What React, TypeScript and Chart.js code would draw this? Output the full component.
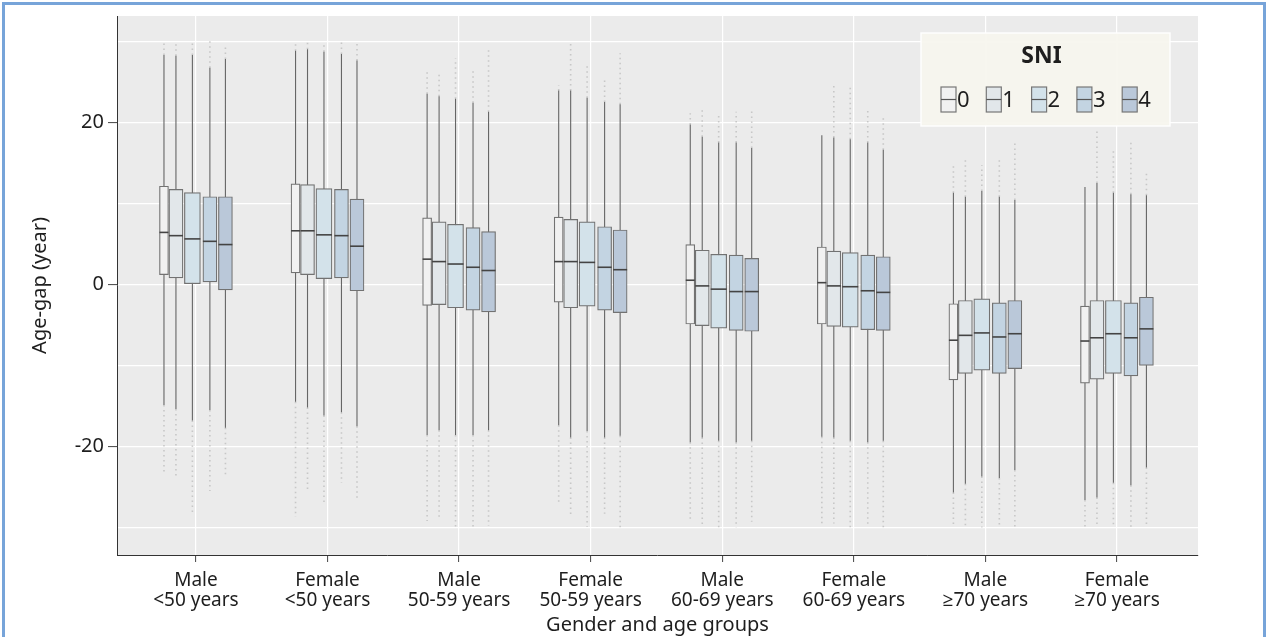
import React, { useEffect, useRef } from "react";
import { Chart, registerables } from "chart.js";

Chart.register(...registerables);

// ---------- data ----------
const GROUPS: string[][] = [
  ["Male", "<50 years"],
  ["Female", "<50 years"],
  ["Male", "50-59 years"],
  ["Female", "50-59 years"],
  ["Male", "60-69 years"],
  ["Female", "60-69 years"],
  ["Male", "≥70 years"],
  ["Female", "≥70 years"],
];
const SNI_LEVELS = ["0", "1", "2", "3", "4"];
const Y_TICKS = [-30, -20, -10, 0, 10, 20, 30];
const Y_LABELED = [-20, 0, 20];

// [SNI level][group]
const Q3 = [
  [12.1, 12.4, 8.2, 8.3, 4.9, 4.6, -2.4, -2.7],
  [11.7, 12.3, 7.7, 8.0, 4.2, 4.1, -2.0, -2.0],
  [11.3, 11.8, 7.4, 7.7, 3.7, 3.9, -1.8, -2.0],
  [10.8, 11.7, 7.0, 7.1, 3.6, 3.6, -2.3, -2.3],
  [10.8, 10.5, 6.5, 6.7, 3.2, 3.4, -2.0, -1.6],
];
const MEDIAN = [
  [6.4, 6.6, 3.1, 2.8, 0.5, 0.2, -6.9, -7.0],
  [6.0, 6.6, 2.8, 2.8, -0.2, -0.2, -6.3, -6.6],
  [5.6, 6.1, 2.5, 2.7, -0.6, -0.3, -6.0, -6.1],
  [5.3, 6.0, 2.1, 2.1, -0.9, -0.8, -6.5, -6.6],
  [4.9, 4.7, 1.7, 1.8, -0.9, -1.0, -6.1, -5.5],
];
const Q1 = [
  [1.2, 1.4, -2.6, -2.2, -4.9, -4.9, -11.8, -12.2],
  [0.8, 1.2, -2.5, -2.9, -5.1, -5.2, -11.0, -11.7],
  [0.0, 0.7, -2.9, -2.7, -5.4, -5.3, -10.6, -11.0],
  [0.3, 0.8, -3.2, -3.2, -5.7, -5.6, -11.0, -11.3],
  [-0.7, -0.8, -3.4, -3.5, -5.8, -5.7, -10.4, -10.0],
];
const WHISKER_HI = [
  [28.3, 28.8, 23.5, 23.9, 19.7, 18.4, 11.3, 12.0],
  [28.2, 29.0, 23.2, 23.9, 18.2, 18.1, 10.8, 12.5],
  [28.3, 28.7, 22.9, 23.0, 17.5, 17.9, 11.5, 11.3],
  [26.7, 28.4, 22.4, 22.5, 17.5, 17.5, 10.8, 11.1],
  [27.8, 27.6, 21.3, 22.2, 16.8, 16.6, 10.4, 11.0],
];
const WHISKER_LO = [
  [-14.9, -14.5, -18.6, -17.4, -19.5, -18.8, -25.7, -26.6],
  [-15.4, -15.2, -18.0, -18.9, -18.9, -18.9, -24.6, -26.3],
  [-16.8, -16.2, -18.6, -18.1, -19.3, -19.3, -23.7, -24.5],
  [-15.5, -15.8, -18.6, -18.9, -19.5, -19.5, -23.9, -24.8],
  [-17.7, -17.5, -18.0, -18.7, -19.3, -19.3, -22.9, -22.6],
];
const OUTLIER_HI = [
  [29.9, 29.8, 26.3, 24.6, 21.1, 18.4, 14.8, 12.0],
  [29.9, 30.0, 26.2, 29.7, 21.8, 24.8, 15.7, 19.0],
  [30.0, 29.9, 27.9, 27.1, 21.1, 24.5, 14.7, 16.8],
  [30.0, 30.0, 26.7, 25.4, 21.3, 21.4, 15.3, 17.5],
  [29.5, 29.8, 29.1, 28.5, 21.6, 20.5, 17.5, 14.0],
];
const OUTLIER_LO = [
  [-23.4, -28.7, -29.2, -26.9, -29.2, -29.8, -30.0, -30.0],
  [-24.0, -25.5, -28.8, -28.7, -30.0, -29.5, -30.0, -30.0],
  [-28.1, -27.3, -30.0, -29.9, -30.0, -30.0, -30.0, -30.0],
  [-25.5, -24.5, -30.0, -28.3, -30.0, -29.9, -30.0, -30.0],
  [-23.6, -26.6, -29.8, -30.0, -29.3, -30.0, -30.0, -30.0],
];

// ---------- layout / style ----------
const DODGE = [-0.243, -0.152, -0.027, 0.106, 0.224];
const BOX_WIDTH = [9, 14, 16, 14, 14];
const FILLS = ["#f1f1f1", "#e2e7ea", "#d3e2ea", "#c3d4e2", "#bac8d9"];
const FONT = "'Noto Sans', 'Open Sans', sans-serif";
const TEXT = "#1e1e1e";

const bgPlugin = {
  id: "panelBg",
  beforeDraw(chart: any) {
    const { ctx, chartArea: a } = chart;
    ctx.save();
    ctx.fillStyle = "#ebebeb";
    ctx.fillRect(a.left, a.top, a.right - a.left, a.bottom - a.top);
    ctx.restore();
  },
};

const legendPlugin = {
  id: "sniLegend",
  afterDraw(chart: any) {
    const { ctx, chartArea: a } = chart;
    const left = a.right - 277;
    const top = a.top + 17;
    const w = 249;
    const h = 93;
    ctx.save();
    ctx.fillStyle = "rgba(247,245,238,0.95)";
    ctx.fillRect(left, top, w, h);
    ctx.strokeStyle = "rgba(255,255,255,0.9)";
    ctx.lineWidth = 1.5;
    ctx.strokeRect(left, top, w, h);
    ctx.fillStyle = TEXT;
    ctx.font = `bold 23px ${FONT}`;
    ctx.textAlign = "center";
    ctx.textBaseline = "middle";
    ctx.fillText("SNI", left + w / 2 - 4, top + 23);
    ctx.font = `22px ${FONT}`;
    ctx.textAlign = "left";
    SNI_LEVELS.forEach((lvl, k) => {
      const sx = left + 20 + k * 45.3;
      const sy = top + 54;
      const sw = 15;
      const sh = 25;
      ctx.fillStyle = FILLS[k];
      ctx.fillRect(sx, sy, sw, sh);
      ctx.strokeStyle = "#777";
      ctx.lineWidth = 1.2;
      ctx.strokeRect(sx, sy, sw, sh);
      ctx.beginPath();
      ctx.moveTo(sx, sy + sh / 2);
      ctx.lineTo(sx + sw, sy + sh / 2);
      ctx.strokeStyle = "#555";
      ctx.stroke();
      ctx.fillStyle = TEXT;
      ctx.fillText(lvl, sx + sw + 1, sy + sh / 2 + 1);
    });
    ctx.restore();
  },
};

export default function App() {
  const ref = useRef<HTMLCanvasElement | null>(null);

  useEffect(() => {
    if (!ref.current) return;
    Chart.defaults.font.family = FONT;
    const datasets: any[] = [];
    SNI_LEVELS.forEach((lvl, k) => {
      const xs = GROUPS.map((_, g) => g + DODGE[k]);
      datasets.push({
        type: "bar",
        label: "SNI " + lvl,
        order: 2,
        data: xs.map((x, g) => ({ x, y: [Q1[k][g], Q3[k][g]] })),
        backgroundColor: FILLS[k],
        borderColor: "#727272",
        borderWidth: 1.2,
        borderSkipped: false,
        grouped: false,
        barThickness: BOX_WIDTH[k],
      });
      datasets.push({
        type: "line",
        label: "whisker " + lvl,
        order: 4,
        data: xs.flatMap((x, g) => [
          { x, y: WHISKER_LO[k][g] },
          { x, y: WHISKER_HI[k][g] },
          { x, y: null },
        ]),
        borderColor: "#666666",
        borderWidth: 1.1,
        pointRadius: 0,
        spanGaps: false,
        fill: false,
      });
      datasets.push({
        type: "line",
        label: "outliers " + lvl,
        order: 5,
        data: xs.flatMap((x, g) => [
          { x, y: WHISKER_HI[k][g] },
          { x, y: OUTLIER_HI[k][g] },
          { x, y: null },
          { x, y: WHISKER_LO[k][g] },
          { x, y: OUTLIER_LO[k][g] },
          { x, y: null },
        ]),
        borderColor: "rgba(175,175,175,0.6)",
        borderWidth: 1.6,
        borderDash: [1.5, 3.5],
        pointRadius: 0,
        spanGaps: false,
        fill: false,
      });
      datasets.push({
        type: "line",
        label: "median " + lvl,
        order: 1,
        showLine: false,
        data: xs.map((x, g) => ({ x, y: MEDIAN[k][g] })),
        pointStyle: "line",
        pointRadius: BOX_WIDTH[k] / 2,
        pointHoverRadius: BOX_WIDTH[k] / 2,
        pointBorderColor: "#444",
        pointBorderWidth: 1.6,
      });
    });

    const chart = new Chart(ref.current, {
      type: "bar",
      data: { datasets },
      plugins: [bgPlugin, legendPlugin],
      options: {
        responsive: false,
        animation: false,
        devicePixelRatio: 1,
        layout: { padding: { top: 13, right: 70, bottom: 0, left: 0 } },
        plugins: { legend: { display: false }, tooltip: { enabled: false } },
        scales: {
          x: {
            type: "linear",
            min: -0.6,
            max: 7.616,
            offset: false,
            afterBuildTicks: (s: any) => {
              s.ticks = GROUPS.map((_, i) => ({ value: i }));
            },
            afterFit: (s: any) => {
              s.height = 82;
            },
            ticks: {
              autoSkip: false,
              maxRotation: 0,
              minRotation: 0,
              padding: 9,
              color: TEXT,
              font: { size: 19, lineHeight: 1.05 },
              callback: (v: any) => GROUPS[Math.round(v)] || "",
            },
            grid: {
              offset: false,
              color: "#ffffff",
              lineWidth: 1.2,
              tickLength: 7,
              tickColor: "#444",
              tickWidth: 1,
            },
            border: { display: true, color: "#333", width: 1 },
            title: {
              display: true,
              text: "Gender and age groups",
              color: TEXT,
              font: { size: 20 },
              padding: { top: 0, bottom: 0 },
            },
          },
          y: {
            min: -33.4,
            max: 33.1,
            afterBuildTicks: (s: any) => {
              s.ticks = Y_TICKS.map((v) => ({ value: v }));
            },
            afterFit: (s: any) => {
              s.width = 117;
            },
            ticks: {
              padding: 4,
              color: TEXT,
              font: { size: 20 },
              callback: (v: any) => (Y_LABELED.includes(v) ? String(v) : ""),
            },
            grid: {
              color: "#ffffff",
              lineWidth: 1.2,
              tickLength: 9,
              tickWidth: 1,
              tickColor: (c: any) =>
                c.tick && Y_LABELED.includes(c.tick.value) ? "#444" : "rgba(0,0,0,0)",
            },
            border: { display: true, color: "#333", width: 1 },
            title: {
              display: true,
              text: "Age-gap (year)",
              color: TEXT,
              font: { size: 20 },
              padding: { top: 28, bottom: 0 },
            },
          },
        },
      },
    } as any);
    return () => chart.destroy();
  }, []);

  return (
    <div style={{ position: "absolute", left: 0, top: 0, width: 1268, height: 637, background: "#fff", overflow: "hidden" }}>
      <canvas ref={ref} width={1268} height={637} style={{ position: "absolute", left: 0, top: 0, display: "block" }} />
      <div
        style={{
          position: "absolute",
          left: 2,
          top: 2,
          width: 1268 - 4,
          height: 700,
          boxSizing: "border-box",
          border: "3px solid #77a4d9",
          pointerEvents: "none",
        }}
      />
    </div>
  );
}
